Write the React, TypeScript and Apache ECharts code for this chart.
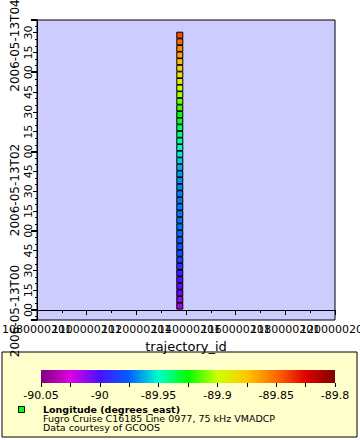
import React, { useEffect, useRef } from "react";
import * as echarts from "echarts";

// ---- data ----
const trajectoryIds: number[] = new Array(42).fill(1137500201);
const times: string[] = [
  "00:03", "00:08", "00:13", "00:18", "00:23", "00:28", "00:33", "00:38", "00:43", "00:48",
  "00:53", "00:58", "01:03", "01:08", "01:13", "01:18", "01:23", "01:28", "01:33", "01:38",
  "01:43", "01:48", "01:53", "01:58", "02:03", "02:08", "02:13", "02:18", "02:23", "02:28",
  "02:33", "02:38", "02:43", "02:48", "02:53", "02:58", "03:03", "03:08", "03:13", "03:18",
  "03:23", "03:28",
];
const longitudes: number[] = [
  -90.013, -90.012, -90.005, -90.003, -89.998, -89.995, -89.99, -89.985, -89.98, -89.978,
  -89.975, -89.973, -89.972, -89.972, -89.971, -89.97, -89.971, -89.97, -89.969, -89.968,
  -89.966, -89.962, -89.958, -89.953, -89.948, -89.944, -89.94, -89.935, -89.93, -89.925,
  -89.918, -89.912, -89.905, -89.898, -89.893, -89.885, -89.88, -89.872, -89.865, -89.858,
  -89.85, -89.843,
];
const xTickLabels: number[] = [
  1080000201, 1100000201, 1120000201, 1140000201, 1160000201, 1180000201, 1200000201,
];
const dateLabels: string[] = ["2006-05-13T00", "2006-05-13T02", "2006-05-13T04"];
const paletteColors: string[] = [
  "#800080", "#e000e0", "#4a10ff", "#0060ff", "#00ffcc", "#00ff00",
  "#ccff00", "#ffc800", "#ff6a00", "#e00000", "#800000",
];
const lonMin = -90.05;
const lonMax = -89.8;
const legendTitle = "Longitude (degrees_east)";
const legendLines: string[] = ["Fugro Cruise C16185 Line 0977, 75 kHz VMADCP", "Data courtesy of GCOOS"];

const FONT = "DejaVu Sans";

function toMinutes(t: string): number {
  const [h, m] = t.split(":").map(Number);
  return h * 60 + m;
}

export default function App() {
  const ref = useRef<HTMLDivElement>(null);
  useEffect(() => {
    if (!ref.current) return;
    const chart = echarts.init(ref.current, null, { renderer: "svg" });
    const data = times.map((t, i) => [trajectoryIds[i], toMinutes(t), longitudes[i]]);
    const stops = paletteColors.map((c, i) => ({ offset: i / (paletteColors.length - 1), color: c }));
    const idMin = xTickLabels[0];
    const idMax = xTickLabels[xTickLabels.length - 1];
    const idStep = xTickLabels[1] - xTickLabels[0];
    const evenLabels = xTickLabels.filter((_, i) => i % 2 === 0);
    const oddLabels = xTickLabels.filter((_, i) => i % 2 === 1);
    const minuteFmt = (v: number) => {
      const r = Math.round(v);
      if (Math.abs(v - r) > 1e-6 || r % 15 !== 0) return "";
      const mm = ((r % 60) + 60) % 60;
      return mm < 10 ? "0" + mm : String(mm);
    };
    const xLabelStyle = {
      color: "#000", fontFamily: FONT, fontSize: 11, margin: 4, hideOverlap: false,
      formatter: (v: number) => String(Math.round(v)),
    };
    const option: any = {
      animation: false,
      backgroundColor: "#ffffff",
      textStyle: { fontFamily: FONT },
      grid: [
        {
          left: 37, top: 20, width: 298, height: 300,
          show: true, backgroundColor: "#ccccff", borderColor: "#000", borderWidth: 1,
          containLabel: false, outerBoundsMode: "none",
        },
        { left: 41, top: 370, width: 294, height: 13, containLabel: false, outerBoundsMode: "none" },
      ],
      xAxis: [
        {
          type: "value", gridIndex: 0, position: "bottom", min: idMin, max: idMax, interval: idStep,
          axisLine: { show: true, lineStyle: { color: "#000", width: 1 } },
          axisTick: { show: true, length: 5, lineStyle: { color: "#000" } },
          minorTick: { show: true, splitNumber: 2, length: 3, lineStyle: { color: "#000" } },
          splitLine: { show: false },
          axisLabel: { ...xLabelStyle, customValues: evenLabels },
          name: "trajectory_id", nameLocation: "middle", nameGap: 20,
          nameTextStyle: { color: "#000", fontFamily: FONT, fontSize: 13 },
        },
        {
          type: "value", gridIndex: 1, min: lonMin, max: lonMax, interval: 0.025,
          axisLine: { show: false },
          axisTick: { show: true, length: 4, lineStyle: { color: "#000" } },
          splitLine: { show: false },
          axisLabel: {
            color: "#000", fontFamily: FONT, fontSize: 11, margin: 7, showMinLabel: true, showMaxLabel: true,
            formatter: (v: number) => {
              const k = Math.round(v * 1000);
              if (Math.abs(k) % 50 !== 0) return "";
              return String(Number((k / 1000).toFixed(3)));
            },
          },
        },
        {
          type: "value", gridIndex: 0, position: "bottom", offset: 0, min: idMin, max: idMax, interval: idStep,
          axisLine: { show: false },
          axisTick: { show: false },
          splitLine: { show: false },
          axisLabel: { ...xLabelStyle, customValues: oddLabels },
        },
      ],
      yAxis: [
        {
          type: "value", gridIndex: 0, position: "left", min: -7.5, max: 219.5, minInterval: 15, maxInterval: 15,
          axisLine: { show: true, lineStyle: { color: "#000", width: 1 } },
          axisTick: { show: true, length: 4, lineStyle: { color: "#000" } },
          minorTick: { show: true, splitNumber: 3, length: 2, lineStyle: { color: "#000" } },
          splitLine: { show: false },
          axisLabel: { color: "#000", fontFamily: FONT, fontSize: 11, rotate: 90, margin: 3,
            showMinLabel: false, showMaxLabel: false, formatter: minuteFmt },
        },
        {
          type: "value", gridIndex: 0, position: "left", offset: 0, min: -7.5, max: 219.5,
          minInterval: 60, maxInterval: 60,
          axisLine: { show: false },
          axisTick: { show: true, length: 6, lineStyle: { color: "#000", width: 2 } },
          splitLine: { show: false },
          axisLabel: { show: false },
        },
        {
          type: "value", gridIndex: 1, min: 0, max: 1, show: false,
        },
      ],
      visualMap: {
        type: "continuous", show: false, min: lonMin, max: lonMax, dimension: 2, seriesIndex: 0,
        inRange: { color: paletteColors },
      },
      series: [
        {
          type: "scatter", xAxisIndex: 0, yAxisIndex: 0, data,
          symbol: "rect", symbolSize: 6,
          itemStyle: { borderColor: "#000", borderWidth: 1, opacity: 1 },
        },
      ],
      graphic: [
        {
          type: "rect", z: 0, silent: true,
          shape: { x: 2, y: 352, width: 355, height: 85 },
          style: { fill: "#ffffcc", stroke: "#000", lineWidth: 1 },
        },
        {
          type: "rect", z: 1, silent: true,
          shape: { x: 41, y: 370, width: 294, height: 13 },
          style: { fill: new echarts.graphic.LinearGradient(0, 0, 1, 0, stops) },
        },
        {
          type: "rect", z: 2, silent: true,
          shape: { x: 18.5, y: 406.5, width: 6, height: 6 },
          style: { fill: "#00ff00", stroke: "#000", lineWidth: 1 },
        },
        {
          type: "text", z: 2, x: 43, y: 409,
          style: { text: legendTitle, fill: "#000", font: `bold 9.5px '${FONT}'`, verticalAlign: "middle", lineHeight: 9 },
        },
        ...legendLines.map((t, i) => ({
          type: "text", z: 2, x: 43, y: 418 + i * 9,
          style: { text: t, fill: "#000", font: `9.5px '${FONT}'`, verticalAlign: "middle", lineHeight: 9 },
        })),
        ...dateLabels.map((t, i) => ({
          type: "text", z: 5, x: 15, y: [311, 190, 45.5][i], rotation: Math.PI / 2,
          style: { text: t, fill: "#000", font: `12px '${FONT}'`, align: "center", verticalAlign: "middle" },
        })),
      ],
    };
    chart.setOption(option);
    return () => chart.dispose();
  }, []);
  return (
    <div
      ref={ref}
      style={{ position: "absolute", left: 0, top: 0, width: 360, height: 440, background: "#fff" }}
    />
  );
}
